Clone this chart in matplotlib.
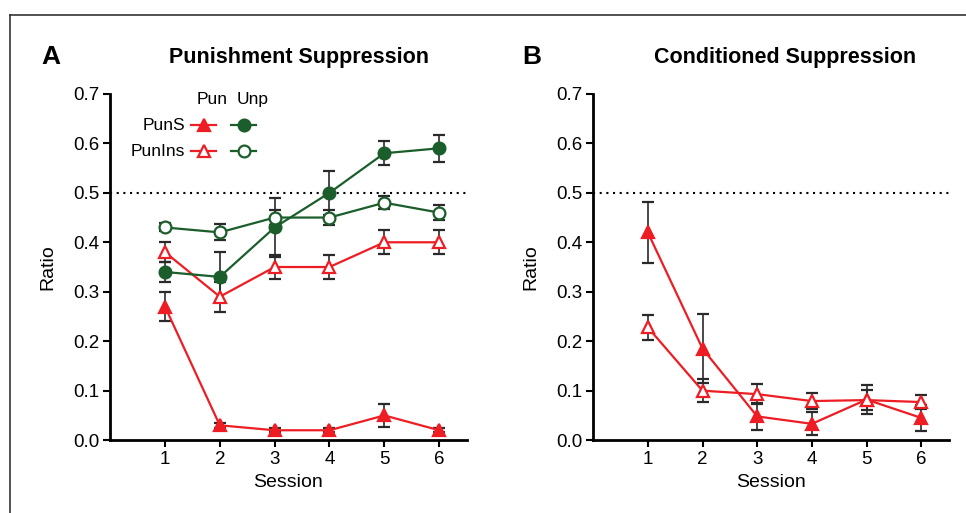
import matplotlib
matplotlib.use('Agg')
from matplotlib import pyplot as plt
from matplotlib.lines import Line2D

plt.rcParams['font.family'] = ['Liberation Sans', 'DejaVu Sans']

sessions = [1, 2, 3, 4, 5, 6]

# panel A - punishment suppression
puns_pun = [0.27, 0.03, 0.02, 0.02, 0.05, 0.02]
puns_pun_err = [0.03, 0.005, 0.004, 0.004, 0.024, 0.004]
puns_unp = [0.34, 0.33, 0.43, 0.50, 0.58, 0.59]
puns_unp_err = [0.021, 0.05, 0.06, 0.045, 0.024, 0.027]
punins_pun = [0.38, 0.29, 0.35, 0.35, 0.40, 0.40]
punins_pun_err = [0.02, 0.03, 0.025, 0.025, 0.024, 0.024]
punins_unp = [0.43, 0.42, 0.45, 0.45, 0.48, 0.46]
punins_unp_err = [0.008, 0.016, 0.015, 0.016, 0.013, 0.015]

# panel B - conditioned suppression
cs_puns = [0.42, 0.185, 0.048, 0.033, 0.082, 0.045]
cs_puns_err = [0.061, 0.07, 0.028, 0.023, 0.029, 0.027]
cs_punins = [0.228, 0.10, 0.093, 0.079, 0.081, 0.077]
cs_punins_err = [0.026, 0.023, 0.02, 0.017, 0.02, 0.014]

yticks = [0.0, 0.1, 0.2, 0.3, 0.4, 0.5, 0.6, 0.7]

red = '#ee1d23'
green = '#1b5e2b'

fig = plt.figure(figsize=(9.66, 5.13), dpi=100)
axA = fig.add_axes([0.114, 0.142, 0.369, 0.675])
axB = fig.add_axes([0.614, 0.142, 0.368, 0.675])


def series(ax, y, err, color, marker, filled, ms):
    ax.errorbar(sessions, y, yerr=err, color=color, lw=1.6, marker=marker, ms=ms,
                mfc=color if filled else 'white', mec=color, mew=1.6,
                ecolor='#2a2a2a', elinewidth=1.2, capsize=4.3, capthick=1.2, zorder=3)


series(axA, puns_pun, puns_pun_err, red, '^', True, 9)
series(axA, punins_pun, punins_pun_err, red, '^', False, 9)
series(axA, puns_unp, puns_unp_err, green, 'o', True, 8.5)
series(axA, punins_unp, punins_unp_err, green, 'o', False, 8.5)

series(axB, cs_puns, cs_puns_err, red, '^', True, 9)
series(axB, cs_punins, cs_punins_err, red, '^', False, 9)

for ax in (axA, axB):
    ax.axhline(0.5, color='black', ls=(0, (1, 2.2)), lw=1.5, zorder=1)
    ax.set_xlim(0, 6.5)
    ax.set_ylim(0, 0.7)
    ax.set_xticks(sessions)
    ax.set_yticks(yticks)
    ax.set_yticklabels(['%.1f' % t for t in yticks])
    ax.spines['top'].set_visible(False)
    ax.spines['right'].set_visible(False)
    ax.spines['left'].set_linewidth(2)
    ax.spines['bottom'].set_linewidth(2)
    ax.tick_params(width=1.5, length=5, labelsize=13.5, pad=3)
    ax.set_xlabel('Session', fontsize=14, labelpad=4)
    ax.set_ylabel('Ratio', fontsize=14, labelpad=12)

# legend grid in panel A
tA = axA.transAxes
axA.text(0.285, 0.985, 'Pun', transform=tA, fontsize=12.5, ha='center', va='center')
axA.text(0.4, 0.985, 'Unp', transform=tA, fontsize=12.5, ha='center', va='center')
axA.text(0.21, 0.91, 'PunS', transform=tA, fontsize=12.5, ha='right', va='center')
axA.text(0.21, 0.835, 'PunIns', transform=tA, fontsize=12.5, ha='right', va='center')
keys = [(0.262, 0.91, red, '^', True), (0.262, 0.835, red, '^', False),
        (0.375, 0.91, green, 'o', True), (0.375, 0.835, green, 'o', False)]
for kx, ky, c, m, f in keys:
    axA.add_line(Line2D([kx - 0.035, kx + 0.035], [ky, ky], transform=tA, color=c, lw=1.6,
                        clip_on=False))
    axA.add_line(Line2D([kx], [ky], transform=tA, color=c, marker=m, ms=8.5 if m == 'o' else 9,
                        mfc=c if f else 'white', mec=c, mew=1.6, clip_on=False))

fig.text(299 / 966, 1 - 57 / 513, 'Punishment Suppression', fontsize=15.5, fontweight='bold',
         ha='center', va='center')
fig.text(785 / 966, 1 - 57 / 513, 'Conditioned Suppression', fontsize=15.5, fontweight='bold',
         ha='center', va='center')
fig.text(51 / 966, 1 - 57 / 513, 'A', fontsize=19, fontweight='bold', ha='center', va='center')
fig.text(532 / 966, 1 - 57 / 513, 'B', fontsize=19, fontweight='bold', ha='center', va='center')

# frame lines (top and left)
fig.add_artist(Line2D([10 / 966, 1], [1 - 15 / 513, 1 - 15 / 513], color='#333333', lw=1.2))
fig.add_artist(Line2D([10 / 966, 10 / 966], [0, 1 - 15 / 513], color='#333333', lw=1.2))

plt.savefig('out.png', dpi=100)
